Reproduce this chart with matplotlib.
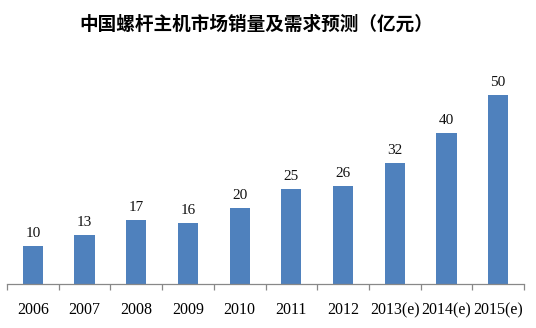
import matplotlib.pyplot as plt
import numpy as np

# 销量及预测数据（亿元）
years = ['2006', '2007', '2008', '2009', '2010', '2011', '2012',
         '2013(e)', '2014(e)', '2015(e)']
sales = [10, 13, 17, 16, 20, 25, 26, 32, 40, 50]

title = '中国螺杆主机市场销量及需求预测（亿元）'
bar_color = '#4F81BD'

fig = plt.figure(figsize=(5.36, 3.28), dpi=100)
ax = fig.add_axes([7 / 536, (328 - 284) / 328, 517 / 536, 227 / 328])

x = np.arange(len(years))
ax.bar(x, sales, width=0.39, color=bar_color, edgecolor='none')

for xi, v in zip(x, sales):
    ax.text(xi, v + 1.6, str(v), ha='center', va='bottom',
            fontsize=11, family='Liberation Serif', color='#111111')

ax.set_xlim(-0.5, len(years) - 0.5)
ax.set_ylim(0, 60)

# 只保留底部坐标轴，刻度线放在类别之间
for side in ['top', 'right', 'left']:
    ax.spines[side].set_visible(False)
ax.spines['bottom'].set_color('#888888')
ax.spines['bottom'].set_linewidth(0.9)
ax.set_yticks([])

ax.set_xticks(np.arange(-0.5, len(years), 1.0), minor=False)
ax.set_xticklabels([])
ax.tick_params(axis='x', which='major', length=4, color='#888888', width=0.9)
ax.set_xticks(x, minor=True)
ax.set_xticklabels(years, minor=True, fontsize=11.5, family='Liberation Serif')
ax.tick_params(axis='x', which='minor', length=0, pad=13)

fig.text(256 / 536, 1 - 24 / 328, title, ha='center', va='center',
         fontsize=13.4, fontweight='bold',
         family=['Noto Sans CJK SC', 'DejaVu Sans'])

fig.savefig('out.png', dpi=100)
